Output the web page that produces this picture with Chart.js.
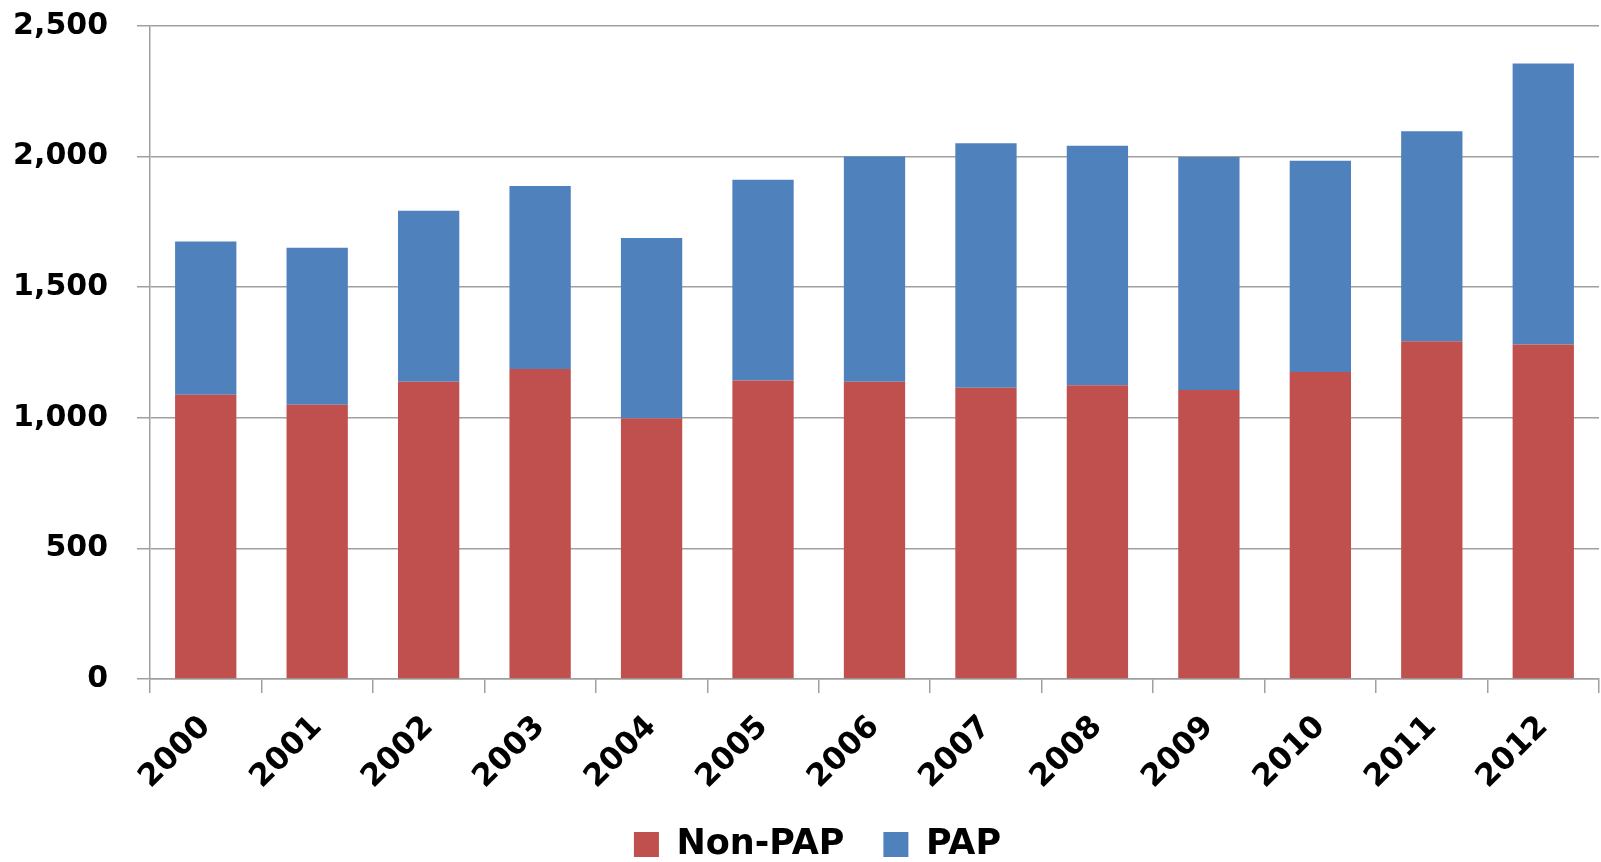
<!DOCTYPE html>
<html>
<head>
<meta charset="utf-8">
<script src="https://cdn.jsdelivr.net/npm/chart.js@4"></script>
<style>
  html, body { margin: 0; padding: 0; background: #fff; }
  #wrap { width: 1601px; height: 862px; overflow: hidden; }
</style>
</head>
<body>
<div id="wrap"><canvas id="myChart" width="1601" height="872"></canvas></div>
<script>
// values
const years = ["2000", "2001", "2002", "2003", "2004", "2005", "2006", "2007", "2008", "2009", "2010", "2011", "2012"];
const nonPap = [1088, 1050, 1138, 1187, 998, 1143, 1138, 1115, 1125, 1106, 1175, 1293, 1281];
const pap = [587, 601, 655, 700, 690, 768, 862, 936, 917, 892, 809, 804, 1075];
const yTicks = [0, 500, 1000, 1500, 2000, 2500];

const gridGray = "#a0a0a0";
const tickFont = { family: "DejaVu Sans", size: 30, weight: "bold" };

// nudge the legend a bit right, like the original
const legendShift = {
  id: "legendShift",
  afterLayout: (chart) => {
    chart.legend.left += 18;
    chart.legend.right += 18;
  },
};

const drawChart = () => {
  var ctx = document.getElementById("myChart").getContext("2d");
  var chart = new Chart(ctx, {
    type: "bar",
    data: {
      labels: [...years],
      datasets: [
        {
          label: "Non-PAP",
          backgroundColor: "#C0504D",
          data: [...nonPap],
        },
        {
          label: "PAP",
          backgroundColor: "#4F81BD",
          data: [...pap],
        },
      ],
    },
    options: {
      responsive: false,
      devicePixelRatio: 1,
      animation: false,
      layout: { padding: { left: 0, right: 2, top: 2, bottom: 0 } },
      datasets: {
        bar: { categoryPercentage: 1.0, barPercentage: 0.55 },
      },
      scales: {
        x: {
          stacked: true,
          grid: {
            drawOnChartArea: false,
            drawTicks: true,
            tickLength: 14,
            color: gridGray,
            lineWidth: 1.5,
          },
          border: { color: gridGray, width: 1.5 },
          ticks: {
            color: "#000",
            font: { family: "DejaVu Sans", size: 31, weight: "bold" },
            minRotation: 45,
            maxRotation: 45,
            padding: 16,
          },
          afterFit: (scale) => { scale.height = 109; },
        },
        y: {
          stacked: true,
          min: 0,
          max: 2500,
          grid: {
            tickLength: 13,
            color: gridGray,
            lineWidth: 1.5,
          },
          border: { color: gridGray, width: 1.5 },
          afterBuildTicks: (scale) => {
            scale.ticks = yTicks.map((v) => ({ value: v }));
          },
          ticks: {
            color: "#000",
            font: tickFont,
            padding: 29,
            callback: (v) => v.toLocaleString("en-US"),
          },
          afterFit: (scale) => {
            scale.width = 150;
            scale.paddingTop = 26;
            scale.paddingBottom = 20;
          },
        },
      },
      plugins: {
        legend: {
          position: "bottom",
          labels: {
            color: "#000",
            font: { family: "DejaVu Sans", size: 35, weight: "bold" },
            boxWidth: 25,
            boxHeight: 25,
            padding: 39,
          },
        },
        tooltip: { enabled: false },
      },
    },
    plugins: [legendShift],
  });
};
drawChart();
</script>
</body>
</html>
